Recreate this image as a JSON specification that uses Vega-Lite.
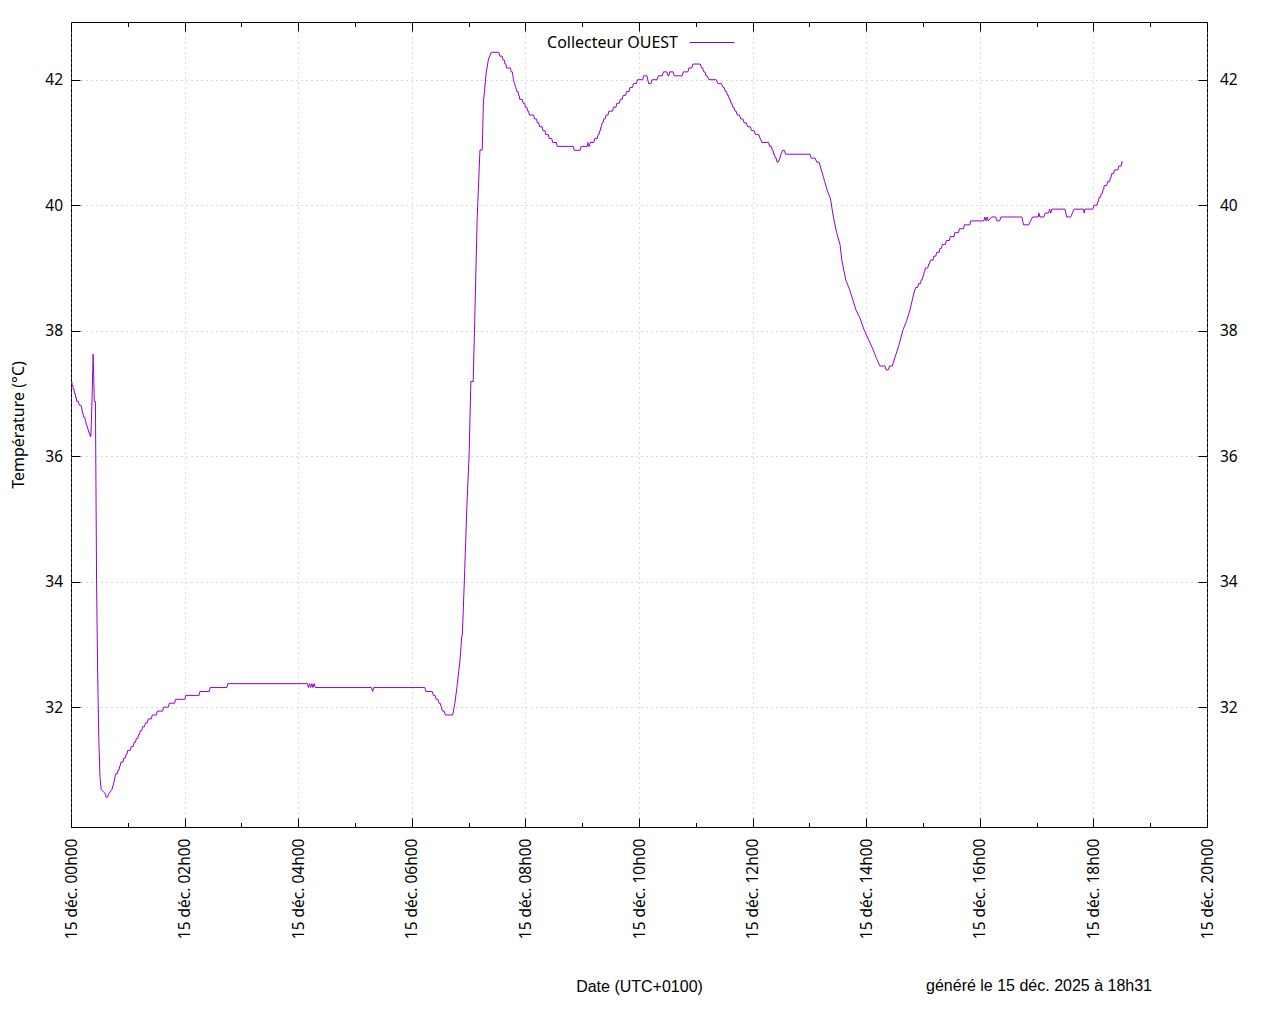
{
  "$schema": "https://vega.github.io/schema/vega-lite/v6.json",
  "width": 1136,
  "height": 805,
  "autosize": {"type": "none"},
  "padding": {"left": 71, "top": 22, "right": 73, "bottom": 197},
  "background": "white",
  "title": {
    "text": "généré le 15 déc. 2025 à 18h31",
    "orient": "bottom",
    "anchor": "end",
    "frame": "group",
    "dx": -55,
    "offset": -8,
    "baseline": "middle",
    "font": "Liberation Sans",
    "fontSize": 16,
    "fontWeight": "normal",
    "color": "#000000"
  },
  "config": {
    "view": {"stroke": "#000000", "strokeWidth": 1},
    "axis": {
      "domain": false,
      "labelFont": "Noto Sans",
      "labelFontSize": 15.5,
      "labelColor": "#000000",
      "tickColor": "#000000",
      "tickWidth": 1,
      "gridColor": "#a8a8a8",
      "gridOpacity": 0.8,
      "gridDash": [1, 4],
      "gridWidth": 1,
      "titleColor": "#000000",
      "titleFontWeight": "normal"
    },
    "legend": {
      "labelFont": "Noto Sans",
      "labelFontSize": 16,
      "labelColor": "#000000"
    }
  },
  "data": {
    "values": [
      {"h":0.00,"t":37.1875},{"h":0.015,"t":37.1875},{"h":0.02,"t":37.125},{"h":0.035,"t":37.125},{"h":0.04,"t":37.0625},{"h":0.055,"t":37.0625},
      {"h":0.06,"t":37.0},{"h":0.075,"t":37.0},{"h":0.08,"t":36.9375},{"h":0.095,"t":36.9375},{"h":0.10,"t":36.875},{"h":0.13,"t":36.875},
      {"h":0.145,"t":36.8125},{"h":0.175,"t":36.8125},{"h":0.19,"t":36.75},{"h":0.195,"t":36.75},{"h":0.20,"t":36.6875},{"h":0.21,"t":36.6875},
      {"h":0.22,"t":36.625},{"h":0.24,"t":36.625},{"h":0.255,"t":36.5625},{"h":0.26,"t":36.5625},{"h":0.27,"t":36.5},{"h":0.28,"t":36.5},
      {"h":0.29,"t":36.4375},{"h":0.30,"t":36.4375},{"h":0.315,"t":36.375},{"h":0.325,"t":36.375},{"h":0.34,"t":36.3125},{"h":0.35,"t":36.3125},
      {"h":0.37,"t":36.9},{"h":0.39,"t":37.625},{"h":0.41,"t":36.875},{"h":0.43,"t":36.875},{"h":0.45,"t":34.03},{"h":0.47,"t":32.5},
      {"h":0.49,"t":31.48},{"h":0.51,"t":30.9},{"h":0.53,"t":30.6875},{"h":0.60,"t":30.625},{"h":0.62,"t":30.5625},{"h":0.64,"t":30.5625},
      {"h":0.67,"t":30.625},{"h":0.72,"t":30.6875},{"h":0.76,"t":30.8125},{"h":0.785,"t":30.9375},{"h":0.815,"t":30.9375},{"h":0.83,"t":31.0},
      {"h":0.845,"t":31.0},{"h":0.86,"t":31.0625},{"h":0.865,"t":31.0625},{"h":0.88,"t":31.125},{"h":0.915,"t":31.125},{"h":0.93,"t":31.1875},
      {"h":0.955,"t":31.1875},{"h":0.97,"t":31.25},{"h":0.985,"t":31.25},{"h":1.00,"t":31.3125},{"h":1.045,"t":31.3125},{"h":1.06,"t":31.375},
      {"h":1.095,"t":31.375},{"h":1.11,"t":31.4375},{"h":1.135,"t":31.4375},{"h":1.15,"t":31.5},{"h":1.175,"t":31.5},{"h":1.19,"t":31.5625},
      {"h":1.205,"t":31.5625},{"h":1.22,"t":31.625},{"h":1.245,"t":31.625},{"h":1.26,"t":31.6875},{"h":1.295,"t":31.6875},{"h":1.31,"t":31.75},
      {"h":1.345,"t":31.75},{"h":1.36,"t":31.8125},{"h":1.415,"t":31.8125},{"h":1.43,"t":31.875},{"h":1.505,"t":31.875},{"h":1.52,"t":31.9375},
      {"h":1.615,"t":31.9375},{"h":1.63,"t":32.0},{"h":1.715,"t":32.0},{"h":1.73,"t":32.0625},{"h":1.825,"t":32.0625},{"h":1.84,"t":32.125},
      {"h":2.005,"t":32.125},{"h":2.02,"t":32.1875},{"h":2.255,"t":32.1875},{"h":2.27,"t":32.25},{"h":2.435,"t":32.25},{"h":2.45,"t":32.3125},
      {"h":2.745,"t":32.3125},{"h":2.76,"t":32.375},{"h":4.16,"t":32.375},{"h":4.18,"t":32.3125},{"h":4.20,"t":32.375},{"h":4.22,"t":32.3125},
      {"h":4.24,"t":32.375},{"h":4.26,"t":32.3125},{"h":4.28,"t":32.375},{"h":4.30,"t":32.3125},{"h":5.29,"t":32.3125},{"h":5.31,"t":32.25},
      {"h":5.33,"t":32.3125},{"h":6.23,"t":32.3125},{"h":6.25,"t":32.25},{"h":6.36,"t":32.25},{"h":6.38,"t":32.1875},{"h":6.41,"t":32.1875},
      {"h":6.43,"t":32.125},{"h":6.46,"t":32.125},{"h":6.48,"t":32.0625},{"h":6.50,"t":32.0625},{"h":6.52,"t":32.0},{"h":6.54,"t":31.9375},
      {"h":6.57,"t":31.9375},{"h":6.59,"t":31.875},{"h":6.72,"t":31.875},{"h":6.76,"t":32.07},{"h":6.80,"t":32.36},{"h":6.85,"t":32.76},
      {"h":6.88,"t":33.14},{"h":6.89,"t":33.14},{"h":6.93,"t":34.14},{"h":6.97,"t":35.2},{"h":7.01,"t":36.05},{"h":7.04,"t":37.19},
      {"h":7.08,"t":37.19},{"h":7.10,"t":37.86},{"h":7.15,"t":39.77},{"h":7.20,"t":40.88},{"h":7.24,"t":40.88},{"h":7.26,"t":41.63},
      {"h":7.31,"t":42.11},{"h":7.35,"t":42.33},{"h":7.40,"t":42.4375},{"h":7.53,"t":42.4375},{"h":7.55,"t":42.375},{"h":7.59,"t":42.375},
      {"h":7.61,"t":42.3125},{"h":7.63,"t":42.3125},{"h":7.64,"t":42.25},{"h":7.655,"t":42.25},{"h":7.67,"t":42.1875},{"h":7.735,"t":42.1875},
      {"h":7.75,"t":42.125},{"h":7.77,"t":42.125},{"h":7.78,"t":42.0625},{"h":7.79,"t":42.0},{"h":7.81,"t":41.9375},{"h":7.83,"t":41.875},
      {"h":7.85,"t":41.8125},{"h":7.87,"t":41.8125},{"h":7.88,"t":41.75},{"h":7.89,"t":41.75},{"h":7.90,"t":41.6875},{"h":7.945,"t":41.6875},
      {"h":7.96,"t":41.625},{"h":7.985,"t":41.625},{"h":8.00,"t":41.5625},{"h":8.025,"t":41.5625},{"h":8.04,"t":41.5},{"h":8.055,"t":41.5},
      {"h":8.07,"t":41.4375},{"h":8.145,"t":41.4375},{"h":8.16,"t":41.375},{"h":8.195,"t":41.375},{"h":8.21,"t":41.3125},{"h":8.235,"t":41.3125},
      {"h":8.25,"t":41.25},{"h":8.295,"t":41.25},{"h":8.31,"t":41.1875},{"h":8.345,"t":41.1875},{"h":8.36,"t":41.125},{"h":8.405,"t":41.125},
      {"h":8.42,"t":41.0625},{"h":8.465,"t":41.0625},{"h":8.48,"t":41.0},{"h":8.545,"t":41.0},{"h":8.56,"t":40.9375},{"h":8.845,"t":40.9375},
      {"h":8.86,"t":40.875},{"h":8.965,"t":40.875},{"h":8.98,"t":40.9375},{"h":9.085,"t":40.9375},{"h":9.10,"t":41.0},{"h":9.11,"t":40.9375},
      {"h":9.125,"t":40.9375},{"h":9.14,"t":41.0},{"h":9.205,"t":41.0},{"h":9.22,"t":41.0625},{"h":9.265,"t":41.0625},{"h":9.28,"t":41.125},
      {"h":9.295,"t":41.125},{"h":9.31,"t":41.1875},{"h":9.32,"t":41.1875},{"h":9.33,"t":41.25},{"h":9.34,"t":41.25},{"h":9.35,"t":41.3125},
      {"h":9.365,"t":41.3125},{"h":9.38,"t":41.375},{"h":9.405,"t":41.375},{"h":9.42,"t":41.4375},{"h":9.455,"t":41.4375},{"h":9.47,"t":41.5},
      {"h":9.535,"t":41.5},{"h":9.55,"t":41.5625},{"h":9.595,"t":41.5625},{"h":9.61,"t":41.625},{"h":9.655,"t":41.625},{"h":9.67,"t":41.6875},
      {"h":9.705,"t":41.6875},{"h":9.72,"t":41.75},{"h":9.765,"t":41.75},{"h":9.78,"t":41.8125},{"h":9.825,"t":41.8125},{"h":9.84,"t":41.875},
      {"h":9.885,"t":41.875},{"h":9.90,"t":41.9375},{"h":9.955,"t":41.9375},{"h":9.97,"t":42.0},{"h":10.065,"t":42.0},{"h":10.08,"t":42.0625},
      {"h":10.14,"t":42.0625},{"h":10.17,"t":41.9375},{"h":10.21,"t":41.9375},{"h":10.23,"t":42.0},{"h":10.32,"t":42.0},{"h":10.34,"t":42.0625},
      {"h":10.41,"t":42.0625},{"h":10.43,"t":42.125},{"h":10.49,"t":42.125},{"h":10.51,"t":42.0625},{"h":10.525,"t":42.0625},{"h":10.54,"t":42.125},
      {"h":10.60,"t":42.125},{"h":10.62,"t":42.0625},{"h":10.76,"t":42.0625},{"h":10.78,"t":42.125},{"h":10.86,"t":42.125},{"h":10.88,"t":42.1875},
      {"h":10.93,"t":42.1875},{"h":10.95,"t":42.25},{"h":11.08,"t":42.25},{"h":11.10,"t":42.1875},{"h":11.12,"t":42.1875},{"h":11.14,"t":42.125},
      {"h":11.16,"t":42.125},{"h":11.18,"t":42.0625},{"h":11.20,"t":42.0625},{"h":11.23,"t":42.0},{"h":11.36,"t":42.0},{"h":11.39,"t":41.9375},
      {"h":11.45,"t":41.9375},{"h":11.48,"t":41.875},{"h":11.50,"t":41.875},{"h":11.52,"t":41.8125},{"h":11.54,"t":41.8125},{"h":11.56,"t":41.75},
      {"h":11.575,"t":41.75},{"h":11.59,"t":41.6875},{"h":11.605,"t":41.6875},{"h":11.62,"t":41.625},{"h":11.635,"t":41.625},{"h":11.65,"t":41.5625},
      {"h":11.67,"t":41.5625},{"h":11.69,"t":41.5},{"h":11.71,"t":41.5},{"h":11.73,"t":41.4375},{"h":11.77,"t":41.4375},{"h":11.79,"t":41.375},
      {"h":11.83,"t":41.375},{"h":11.85,"t":41.3125},{"h":11.89,"t":41.3125},{"h":11.91,"t":41.25},{"h":11.96,"t":41.25},{"h":11.98,"t":41.1875},
      {"h":12.03,"t":41.1875},{"h":12.05,"t":41.125},{"h":12.11,"t":41.125},{"h":12.13,"t":41.0625},{"h":12.14,"t":41.0625},{"h":12.16,"t":41.0},
      {"h":12.28,"t":41.0},{"h":12.30,"t":40.9375},{"h":12.33,"t":40.9375},{"h":12.35,"t":40.875},{"h":12.36,"t":40.875},{"h":12.37,"t":40.8125},
      {"h":12.385,"t":40.8125},{"h":12.40,"t":40.75},{"h":12.415,"t":40.75},{"h":12.43,"t":40.6875},{"h":12.45,"t":40.6875},{"h":12.48,"t":40.75},
      {"h":12.50,"t":40.8125},{"h":12.53,"t":40.875},{"h":12.56,"t":40.875},{"h":12.58,"t":40.8125},{"h":13.01,"t":40.8125},{"h":13.03,"t":40.75},
      {"h":13.10,"t":40.75},{"h":13.13,"t":40.6875},{"h":13.17,"t":40.6875},{"h":13.19,"t":40.625},{"h":13.21,"t":40.5625},{"h":13.23,"t":40.5},
      {"h":13.25,"t":40.4375},{"h":13.27,"t":40.375},{"h":13.32,"t":40.22},{"h":13.37,"t":40.11},{"h":13.42,"t":39.82},{"h":13.48,"t":39.56},
      {"h":13.54,"t":39.37},{"h":13.57,"t":39.13},{"h":13.64,"t":38.81},{"h":13.71,"t":38.65},{"h":13.82,"t":38.33},{"h":13.89,"t":38.2},
      {"h":13.96,"t":38.02},{"h":14.04,"t":37.86},{"h":14.12,"t":37.7},{"h":14.18,"t":37.56},{"h":14.24,"t":37.4375},{"h":14.33,"t":37.4375},
      {"h":14.35,"t":37.375},{"h":14.39,"t":37.375},{"h":14.41,"t":37.4375},{"h":14.46,"t":37.4375},{"h":14.48,"t":37.5},{"h":14.57,"t":37.75},
      {"h":14.65,"t":38.02},{"h":14.71,"t":38.15},{"h":14.77,"t":38.33},{"h":14.84,"t":38.6},{"h":14.87,"t":38.6875},{"h":14.905,"t":38.6875},
      {"h":14.92,"t":38.75},{"h":14.955,"t":38.75},{"h":14.97,"t":38.8125},{"h":14.985,"t":38.8125},{"h":15.0,"t":38.875},{"h":15.01,"t":38.875},
      {"h":15.02,"t":38.9375},{"h":15.03,"t":38.9375},{"h":15.04,"t":39.0},{"h":15.085,"t":39.0},{"h":15.10,"t":39.0625},{"h":15.115,"t":39.0625},
      {"h":15.13,"t":39.125},{"h":15.175,"t":39.125},{"h":15.19,"t":39.1875},{"h":15.225,"t":39.1875},{"h":15.24,"t":39.25},{"h":15.285,"t":39.25},
      {"h":15.30,"t":39.3125},{"h":15.325,"t":39.3125},{"h":15.34,"t":39.375},{"h":15.395,"t":39.375},{"h":15.41,"t":39.4375},{"h":15.465,"t":39.4375},
      {"h":15.48,"t":39.5},{"h":15.545,"t":39.5},{"h":15.56,"t":39.5625},{"h":15.625,"t":39.5625},{"h":15.64,"t":39.625},{"h":15.715,"t":39.625},
      {"h":15.73,"t":39.6875},{"h":15.825,"t":39.6875},{"h":15.84,"t":39.75},{"h":16.07,"t":39.75},{"h":16.09,"t":39.8125},{"h":16.11,"t":39.75},
      {"h":16.13,"t":39.8125},{"h":16.15,"t":39.75},{"h":16.21,"t":39.8125},{"h":16.28,"t":39.8125},{"h":16.30,"t":39.75},{"h":16.35,"t":39.75},
      {"h":16.37,"t":39.8125},{"h":16.74,"t":39.8125},{"h":16.77,"t":39.6875},{"h":16.86,"t":39.6875},{"h":16.93,"t":39.8125},{"h":17.03,"t":39.8125},
      {"h":17.04,"t":39.875},{"h":17.06,"t":39.8125},{"h":17.13,"t":39.8125},{"h":17.15,"t":39.875},{"h":17.21,"t":39.875},{"h":17.23,"t":39.9375},
      {"h":17.25,"t":39.875},{"h":17.27,"t":39.9375},{"h":17.50,"t":39.9375},{"h":17.53,"t":39.8125},{"h":17.60,"t":39.8125},{"h":17.66,"t":39.9375},
      {"h":17.82,"t":39.9375},{"h":17.84,"t":39.875},{"h":17.85,"t":39.9375},{"h":17.99,"t":39.9375},{"h":18.01,"t":40.0},{"h":18.065,"t":40.0},
      {"h":18.08,"t":40.0625},{"h":18.09,"t":40.0625},{"h":18.10,"t":40.125},{"h":18.125,"t":40.125},{"h":18.14,"t":40.1875},{"h":18.155,"t":40.1875},
      {"h":18.17,"t":40.25},{"h":18.18,"t":40.25},{"h":18.19,"t":40.3125},{"h":18.235,"t":40.3125},{"h":18.25,"t":40.375},{"h":18.285,"t":40.375},
      {"h":18.30,"t":40.4375},{"h":18.31,"t":40.4375},{"h":18.32,"t":40.5},{"h":18.355,"t":40.5},{"h":18.37,"t":40.5625},{"h":18.43,"t":40.5625},
      {"h":18.45,"t":40.625},{"h":18.49,"t":40.625},{"h":18.50,"t":40.6875},{"h":18.52,"t":40.6875}
    ]
  },
  "transform": [{"calculate": "'Collecteur OUEST'", "as": "serie"}],
  "layer": [
    {
      "mark": {"type": "line", "strokeWidth": 1, "interpolate": "linear"},
      "encoding": {
        "x": {
          "field": "h", "type": "quantitative",
          "scale": {"domain": [0, 20], "nice": false, "zero": false},
          "axis": {
            "orient": "bottom",
            "values": [0, 2, 4, 6, 8, 10, 12, 14, 16, 18, 20],
            "labelExpr": "'15 déc. ' + (datum.value < 10 ? '0' : '') + datum.value + 'h00'",
            "labelAngle": 270,
            "labelAlign": "right",
            "labelBaseline": "middle",
            "labelPadding": 20,
            "tickSize": -9,
            "grid": true,
            "title": "Date (UTC+0100)",
            "titleFont": "Liberation Sans",
            "titleFontSize": 16,
            "titleY": 159,
            "titleBaseline": "middle",
            "labelFlush": false,
            "labelOverlap": false
          }
        },
        "y": {
          "field": "t", "type": "quantitative",
          "scale": {"domain": [30.09, 42.92], "nice": false, "zero": false},
          "axis": {
            "orient": "left",
            "values": [32, 34, 36, 38, 40, 42],
            "tickSize": -9,
            "labelPadding": 17.5,
            "grid": true,
            "title": "Température (°C)",
            "titleFont": "Noto Sans",
            "titleFontSize": 16,
            "titleX": -53,
            "titleAngle": 270,
            "titleBaseline": "middle",
            "titleAlign": "center"
          }
        },
        "color": {
          "field": "serie", "type": "nominal",
          "scale": {"range": ["#9400d3"]},
          "legend": {
            "title": null,
            "orient": "none",
            "legendX": 618,
            "legendY": -2.5,
            "padding": 0,
            "symbolType": "stroke",
            "symbolSize": 2025,
            "symbolStrokeWidth": 1,
            "labelAlign": "right",
            "labelOffset": -57,
            "labelBaseline": "middle"
          }
        }
      }
    },
    {
      "mark": {"type": "line", "opacity": 0},
      "encoding": {
        "x": {
          "field": "h", "type": "quantitative",
          "axis": {
            "orient": "top",
            "values": [0, 2, 4, 6, 8, 10, 12, 14, 16, 18, 20],
            "labels": false, "tickSize": -9, "grid": false, "title": null
          }
        },
        "y": {
          "field": "t", "type": "quantitative",
          "axis": {
            "orient": "right",
            "values": [32, 34, 36, 38, 40, 42],
            "tickSize": -9, "labelPadding": 21.5, "grid": false, "title": null
          }
        }
      }
    },
    {
      "mark": {"type": "line", "opacity": 0},
      "encoding": {
        "x": {
          "field": "h", "type": "quantitative",
          "axis": {
            "orient": "bottom",
            "values": [1, 3, 5, 7, 9, 11, 13, 15, 17, 19],
            "labels": false, "tickSize": -4.5, "grid": false, "title": null
          }
        },
        "y": {"field": "t", "type": "quantitative", "axis": null}
      }
    },
    {
      "mark": {"type": "line", "opacity": 0},
      "encoding": {
        "x": {
          "field": "h", "type": "quantitative",
          "axis": {
            "orient": "top",
            "values": [1, 3, 5, 7, 9, 11, 13, 15, 17, 19],
            "labels": false, "tickSize": -4.5, "grid": false, "title": null
          }
        },
        "y": {"field": "t", "type": "quantitative", "axis": null}
      }
    }
  ],
  "resolve": {"axis": {"x": "independent", "y": "independent"}}
}
